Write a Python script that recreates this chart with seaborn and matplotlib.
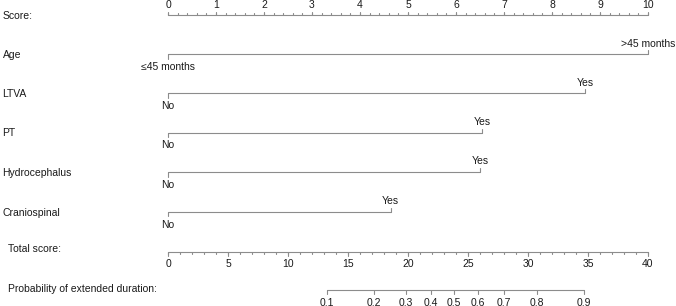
import matplotlib
matplotlib.use("Agg")
import matplotlib.pyplot as plt
import numpy as np
import pandas as pd
import seaborn as sns

# ---------------- data ----------------
score_ticks = [0, 1, 2, 3, 4, 5, 6, 7, 8, 9, 10]
variables = ["Age", "LTVA", "PT", "Hydrocephalus", "Craniospinal"]
low_labels = ["≤45 months", "No", "No", "No", "No"]
high_labels = [">45 months", "Yes", "Yes", "Yes", "Yes"]
low_points = [0.0, 0.0, 0.0, 0.0, 0.0]
high_points = [10.0, 8.69, 6.54, 6.50, 4.64]
total_ticks = [0, 5, 10, 15, 20, 25, 30, 35, 40]
prob_labels = ["0.1", "0.2", "0.3", "0.4", "0.5", "0.6", "0.7", "0.8", "0.9"]
prob_total_pos = [13.25, 17.17, 19.83, 21.92, 23.83, 25.83, 28.0, 30.75, 34.67]

# ---------------- style ----------------
sns.set_theme(style="white")
plt.rcParams["font.family"] = ["Liberation Sans", "DejaVu Sans"]
TXT = "#1a1a1a"
LC = "#8c8c8c"
LW = 0.8
FS = 7.5

W, H = 676, 306
fig = plt.figure(figsize=(W / 100, H / 100), dpi=100)
ax = fig.add_axes([0, 0, 1, 1])
X0, PPX = 168.0, 48.0          # pixel of 0 points, pixels per point

def px(xpix):
    return (xpix - X0) / PPX

label_x = px(2.5)
y_score = 15.0
row_y = [54.3, 93.3, 132.5, 172.0, 211.5]
y_total = 251.5
y_prob = 289.5
TOT_SCALE = 10.0 / 40.0

# ---------------- variable rows (seaborn) ----------------
df = pd.DataFrame({
    "variable": np.repeat(variables, 2),
    "points": np.ravel(np.column_stack([low_points, high_points])),
    "y": np.repeat(row_y, 2),
})
sns.lineplot(data=df, x="points", y="y", units="variable", estimator=None,
             sort=False, color=LC, lw=LW, ax=ax, legend=False)
ax.set_xlim(-X0 / PPX, (W - X0) / PPX)
ax.set_ylim(H, 0)
ax.axis("off")

for name, lo, hi, lol, hil, y in zip(variables, low_points, high_points,
                                     low_labels, high_labels, row_y):
    ax.plot([lo, lo], [y, y + 4.5], color=LC, lw=LW)
    ax.plot([hi, hi], [y, y - 4.0], color=LC, lw=LW)
    ax.text(lo, y + 13.0, lol, ha="center", va="center", fontsize=FS, color=TXT)
    ax.text(hi, y - 10.5, hil, ha="center", va="center", fontsize=FS, color=TXT)
    ax.text(label_x, y + 1, name, ha="left", va="center", fontsize=FS, color=TXT)

# ---------------- score axis ----------------
ax.plot([score_ticks[0], score_ticks[-1]], [y_score, y_score], color=LC, lw=LW)
minor = np.arange(0, 10.001, 0.2)
for m in minor:
    ax.plot([m, m], [y_score, y_score - 2.0], color=LC, lw=LW)
for t in score_ticks:
    ax.plot([t, t], [y_score, y_score - 3.5], color=LC, lw=LW)
    ax.text(t, 4.5, str(t), ha="center", va="center", fontsize=FS, color=TXT)
ax.text(label_x, y_score + 1, "Score:", ha="left", va="center", fontsize=FS, color=TXT)

# ---------------- total score axis ----------------
ax.plot([total_ticks[0] * TOT_SCALE, total_ticks[-1] * TOT_SCALE],
        [y_total, y_total], color=LC, lw=LW)
for m in range(0, 41):
    ax.plot([m * TOT_SCALE] * 2, [y_total, y_total + 2.5], color=LC, lw=LW)
for t in total_ticks:
    ax.plot([t * TOT_SCALE] * 2, [y_total, y_total + 4.0], color=LC, lw=LW)
    ax.text(t * TOT_SCALE, y_total + 12.5, str(t), ha="center", va="center",
            fontsize=FS, color=TXT)
ax.text(px(8), y_total - 3, "Total score:", ha="left", va="center", fontsize=FS, color=TXT)

# ---------------- probability axis ----------------
ax.plot([prob_total_pos[0] * TOT_SCALE, prob_total_pos[-1] * TOT_SCALE],
        [y_prob, y_prob], color=LC, lw=LW)
for lab, t in zip(prob_labels, prob_total_pos):
    ax.plot([t * TOT_SCALE] * 2, [y_prob, y_prob + 4.5], color=LC, lw=LW)
    ax.text(t * TOT_SCALE, y_prob + 13, lab, ha="center", va="center",
            fontsize=FS, color=TXT)
ax.text(px(8), y_prob, "Probability of extended duration:", ha="left",
        va="center", fontsize=FS, color=TXT)

fig.savefig("out.png", dpi=100, facecolor="white")
